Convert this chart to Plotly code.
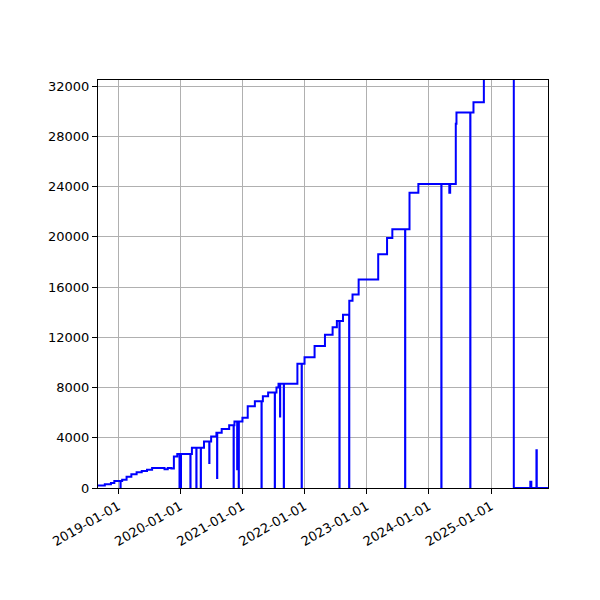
import plotly.graph_objects as go

dates = ["2018-09-05","2018-10-15","2018-11-20","2018-12-10","2019-01-15","2019-01-16","2019-01-25",
 "2019-02-20","2019-03-20","2019-04-20","2019-05-20","2019-06-20","2019-07-20","2019-10-01","2019-10-20",
 "2019-11-10","2019-11-25","2019-12-15","2019-12-28","2019-12-29","2020-01-05","2020-01-06",
 "2020-03-01","2020-03-02","2020-03-10","2020-04-05","2020-04-06","2020-05-01","2020-05-02","2020-05-20",
 "2020-06-20","2020-06-21","2020-07-01","2020-08-01","2020-08-05","2020-08-06","2020-09-01","2020-10-15",
 "2020-11-10","2020-11-11","2020-11-15","2020-12-01","2020-12-02","2020-12-10","2020-12-11","2021-01-01",
 "2021-02-01","2021-03-15","2021-04-23","2021-04-24","2021-05-01","2021-06-01","2021-07-10","2021-07-11",
 "2021-07-20","2021-08-01","2021-08-10","2021-08-11","2021-09-01","2021-09-02","2021-11-20","2021-12-15",
 "2021-12-16","2022-01-01","2022-03-01","2022-05-01","2022-06-15","2022-07-10","2022-07-25","2022-07-26",
 "2022-08-15","2022-09-20","2022-09-21","2022-10-10","2022-11-15","2023-03-10","2023-05-01","2023-06-01",
 "2023-08-15","2023-08-16","2023-09-10","2023-11-01","2024-03-15","2024-03-16","2024-05-01","2024-05-06",
 "2024-06-08","2024-06-12","2024-09-01","2024-09-02","2024-09-20","2024-11-20","2025-05-15","2025-08-20",
 "2025-08-26","2025-09-25","2025-09-27","2025-12-02"]
values = [200,300,400,550,0,550,650,
 900,1100,1250,1350,1450,1600,1500,1600,
 1550,2500,2700,0,2700,0,2700,
 0,2700,3200,0,3200,0,3200,3700,
 2000,3700,4100,4400,800,4400,4700,5000,
 0,5000,5300,1500,5300,0,5300,5600,
 6500,6900,0,6900,7300,7600,0,7600,
 8000,8300,5700,8300,0,8300,9900,0,
 9900,10400,11300,12200,12800,13300,0,13300,
 13800,0,14900,15400,16600,18600,19900,20600,
 0,20600,23500,24200,0,24200,23500,24200,
 29000,29900,0,29900,30700,33000,0,500,
 0,3000,0,0]
y_ticks = list(range(0, 32001, 4000))
x_ticks = ["2019-01-01","2020-01-01","2021-01-01","2022-01-01","2023-01-01","2024-01-01","2025-01-01"]

fig = go.Figure(go.Scatter(x=dates, y=values, mode="lines", line=dict(color="blue", width=2, shape="hv")))
ax = dict(showline=True, linecolor="black", mirror=True, showgrid=True, gridcolor="#b0b0b0",
          ticks="outside", tickcolor="black", zeroline=False, automargin=False)
fig.update_layout(width=600, height=600, paper_bgcolor="white", plot_bgcolor="white",
    margin=dict(l=90, r=60, t=72, b=120, autoexpand=False), showlegend=False,
    font=dict(family="DejaVu Sans", size=13, color="black"),
    xaxis=dict(ax, range=["2018-09-05","2025-12-02"], tickangle=-30,
               tickvals=x_ticks, ticktext=x_ticks),
    yaxis=dict(ax, range=[0, 32480], tickvals=y_ticks, ticktext=[str(v) for v in y_ticks]))
fig.write_html("out.html")
